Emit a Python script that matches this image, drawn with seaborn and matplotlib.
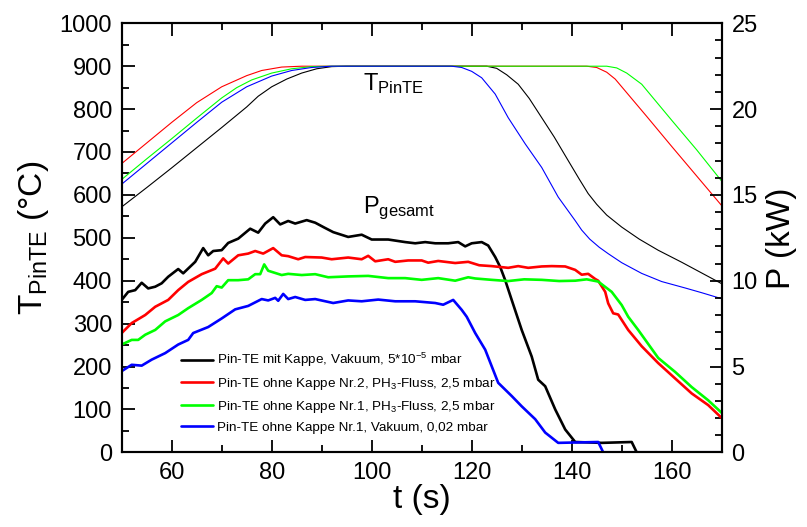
import matplotlib
matplotlib.use("Agg")
import matplotlib.pyplot as plt
import seaborn as sns
from matplotlib.ticker import MultipleLocator

# --- Temperatur T_PinTE (°C) ---
t_temp_black = [50, 55, 60, 65, 70, 75, 77.3, 80, 83, 86, 89, 92, 95, 123, 125, 127, 129.3, 131.5, 134,
                136.5, 139.3, 141.5, 143.3, 145, 147, 150, 153.5, 157.3, 162, 166, 170]
temp_black = [572, 617, 663, 710, 757, 805, 830, 852, 870, 884, 894, 899, 900, 900, 895, 880, 858, 825, 780,
              735, 680, 637, 603, 578, 553, 525, 497, 471, 443, 418, 393]

t_temp_red = [50, 55, 60, 65, 70, 75, 78, 82, 86, 143, 145, 147, 148.7, 155, 160, 165, 170]
temp_red = [673, 721, 769, 815, 852, 878, 890, 898, 900, 900, 897, 886, 870, 783, 713, 644, 575]

t_temp_green = [50, 55, 60, 65, 70, 73, 76, 80, 84, 88, 92, 147, 149, 151, 154, 160, 165, 170]
temp_green = [636, 684, 731, 779, 826, 850, 868, 884, 894, 899, 900, 900, 896, 884, 858, 774, 705, 632]

t_temp_blue = [50, 55, 60, 65, 70, 75, 80, 84, 88, 92, 116, 118, 120, 122, 124.7, 127.3, 130.7, 134, 137.3,
               140.7, 142, 143.6, 145.5, 147.3, 150, 154, 158, 162.7, 166, 170]
temp_blue = [625, 673, 721, 769, 816, 852, 877, 890, 897, 900, 900, 897, 888, 873, 835, 780, 719, 664, 595,
             540, 518, 497, 478, 463, 442, 417, 398, 383, 372, 358]

# --- Leistung P (kW) ---
t_p_black = [50, 51.3, 52.7, 54, 55.3, 56.7, 58, 59.3, 61.3, 62.3, 64.7, 66.3, 67.3, 68.3, 70, 71.3, 73.3,
             75.7, 77.3, 78.7, 80.3, 81.7, 83.3, 84.7, 87, 88.7, 90.5, 92.3, 95.3, 98, 100, 103.3, 106.7,
             108.7, 110.7, 112.7, 115.3, 117.3, 118.7, 120, 122, 123.3, 124.7, 125.7, 126.7, 128, 130, 132,
             133.3, 134.7, 136.7, 138.7, 140.7, 146, 152, 153, 170]
p_black = [8.88, 9.35, 9.45, 9.88, 9.55, 9.65, 9.85, 10.23, 10.68, 10.43, 11.1, 11.9, 11.48, 11.73, 11.78,
           12.2, 12.45, 13.03, 12.8, 13.33, 13.7, 13.28, 13.48, 13.33, 13.53, 13.38, 13.1, 12.83, 12.55,
           12.68, 12.4, 12.4, 12.25, 12.18, 12.25, 12.18, 12.18, 12.25, 12.0, 12.18, 12.25, 12.05, 11.38,
           10.8, 10.03, 8.88, 7.13, 5.58, 4.23, 3.85, 2.5, 1.33, 0.6, 0.55, 0.6, 0.0, 0.0]

t_p_red = [50, 52, 54.7, 56.7, 59.3, 61.3, 63.3, 66, 68.7, 70.3, 71.3, 73.3, 75.3, 76.7, 78.3, 80.3, 82,
           83.3, 85.3, 86.7, 90, 92, 95.3, 98, 99.3, 100.7, 103.3, 104.7, 107.3, 110, 111.3, 113.3, 116.7,
           119.3, 121.5, 124, 127.3, 129.3, 131.3, 134, 136, 138.7, 140.7, 142, 143.3, 144.7, 145.3, 146.7,
           147.3, 148.3, 149.3, 151.3, 154, 157.3, 160.7, 164, 167.3, 170]
p_red = [6.95, 7.53, 8.0, 8.48, 8.88, 9.45, 9.93, 10.38, 10.7, 11.3, 11.0, 11.48, 11.58, 11.73, 11.58, 11.9,
         11.48, 11.43, 11.25, 11.38, 11.35, 11.25, 11.35, 11.25, 11.45, 11.13, 11.25, 11.1, 11.18, 11.18,
         11.05, 11.15, 11.03, 11.1, 10.9, 10.85, 10.75, 10.85, 10.75, 10.83, 10.85, 10.83, 10.63, 10.35,
         10.4, 10.1, 10.0, 9.35, 8.68, 8.1, 8.03, 7.13, 6.18, 5.2, 4.3, 3.43, 2.75, 2.0]

t_p_green = [50, 52, 53.3, 54.7, 56.7, 58.7, 61.3, 63.3, 66, 68, 69, 70, 71.3, 73.3, 75.3, 76.7, 77.7, 78.5,
             79.3, 82, 83.3, 86, 88.7, 91.3, 95.3, 99.3, 103.3, 106.7, 110, 113.3, 116.7, 119.3, 120.7, 124,
             127.3, 130.5, 134, 137.5, 140.7, 143, 145.3, 148, 150, 151.3, 153.3, 157.3, 160.7, 164, 167.3, 170]
p_green = [6.28, 6.55, 6.55, 6.85, 7.13, 7.63, 8.0, 8.4, 8.88, 9.28, 9.68, 9.6, 10.03, 10.03, 10.08, 10.38,
           10.38, 10.95, 10.58, 10.33, 10.4, 10.33, 10.38, 10.2, 10.25, 10.28, 10.15, 10.15, 10.05, 10.15,
           10.0, 10.2, 10.13, 10.05, 9.98, 10.08, 10.05, 9.98, 10.0, 10.08, 9.95, 9.35, 8.58, 7.9, 7.13,
           5.5, 4.68, 3.8, 3.03, 2.3]

t_p_blue = [50, 52, 54, 56, 58.7, 61.3, 63.3, 64.3, 67.3, 70, 72.7, 75.3, 78, 79.3, 80.7, 81.3, 82.3, 83.3,
            84.7, 86.7, 88.7, 92.3, 95.3, 98, 101.3, 104.7, 108.7, 112.7, 114.3, 116.3, 118, 119, 120.7,
            122.7, 125.3, 128, 130, 132.7, 134.7, 137.3, 145.3, 146.3, 170]
p_blue = [4.73, 5.1, 5.05, 5.4, 5.78, 6.28, 6.55, 6.95, 7.3, 7.8, 8.33, 8.53, 8.93, 8.85, 9.0, 8.83, 9.23,
          8.93, 9.05, 8.88, 8.93, 8.7, 8.85, 8.8, 8.9, 8.8, 8.8, 8.7, 8.6, 8.88, 8.3, 7.9, 6.95, 5.98, 4.05,
          3.28, 2.68, 1.93, 1.15, 0.55, 0.6, 0.0, 0.0]

labels = [
    r"Pin-TE mit Kappe, Vakuum, 5*10$^{-5}$ mbar",
    r"Pin-TE ohne Kappe Nr.2, PH$_3$-Fluss, 2,5 mbar",
    r"Pin-TE ohne Kappe Nr.1, PH$_3$-Fluss, 2,5 mbar",
    r"Pin-TE ohne Kappe Nr.1, Vakuum, 0,02 mbar",
]
colors = ["#000000", "#ff0000", "#00ff00", "#0000ff"]

sns.set_style("ticks")
plt.rcParams["font.family"] = ["Liberation Sans", "DejaVu Sans"]
plt.rcParams["mathtext.fontset"] = "custom"
plt.rcParams["mathtext.rm"] = "Liberation Sans"
plt.rcParams["mathtext.it"] = "Liberation Sans:italic"
plt.rcParams["mathtext.default"] = "regular"
plt.rcParams["axes.linewidth"] = 1.5
for key in ("text.color", "axes.labelcolor", "xtick.color", "ytick.color", "axes.edgecolor"):
    plt.rcParams[key] = "black"

fig = plt.figure(figsize=(8.07, 5.27), dpi=100)
ax = fig.add_axes([121.7 / 807, 1 - 452.3 / 527, 600 / 807, 429 / 527])
ax2 = ax.twinx()

temps = [(t_temp_black, temp_black), (t_temp_red, temp_red), (t_temp_green, temp_green), (t_temp_blue, temp_blue)]
powers = [(t_p_black, p_black), (t_p_red, p_red), (t_p_green, p_green), (t_p_blue, p_blue)]

for (x, y), c in zip(temps, colors):
    sns.lineplot(x=x, y=y, ax=ax, color=c, lw=0.8)

handles = []
for (x, y), c, lab in zip(powers, colors, labels):
    sns.lineplot(x=x, y=y, ax=ax2, color=c, lw=1.9, label=lab)
    handles.append(ax2.lines[-1])

ax.set_xlim(50, 170)
ax.set_ylim(0, 1000)
ax2.set_ylim(0, 25)

ax.xaxis.set_major_locator(MultipleLocator(20))
ax.xaxis.set_minor_locator(MultipleLocator(10))
ax.yaxis.set_major_locator(MultipleLocator(100))
ax.yaxis.set_minor_locator(MultipleLocator(50))
ax2.yaxis.set_major_locator(MultipleLocator(5))
ax2.yaxis.set_minor_locator(MultipleLocator(1))

ax.tick_params(axis="both", which="both", direction="in", width=1.3, labelsize=17, colors="black")
ax.tick_params(axis="x", which="both", top=True)
ax.tick_params(axis="x", which="major", length=9, pad=7)
ax.tick_params(axis="x", which="minor", length=5)
ax.tick_params(axis="y", which="major", length=9, pad=7)
ax.tick_params(axis="y", which="minor", length=5)
ax2.tick_params(axis="y", which="both", direction="in", width=1.3, labelsize=17, colors="black")
ax2.tick_params(axis="y", which="major", length=9, pad=7)
ax2.tick_params(axis="y", which="minor", length=5)

for a in (ax, ax2):
    for s in a.spines.values():
        s.set_visible(True)
        s.set_linewidth(1.5)
        s.set_color("black")

ax.set_xlabel("t (s)", fontsize=24, labelpad=0)
ax.set_ylabel(r"T$_{\mathrm{PinTE}}$ (°C)", fontsize=24, labelpad=6)
ax2.set_ylabel("P (kW)", fontsize=24, rotation=90, labelpad=6)

ax.text(98.3, 888, r"T$_{\mathrm{PinTE}}$", fontsize=17, va="top", ha="left")
ax.text(98.3, 600, r"P$_{\mathrm{gesamt}}$", fontsize=17, va="top", ha="left")

ax2.legend(handles=handles, labels=labels, loc="upper left", bbox_to_anchor=(0.098, 0.236),
           frameon=False, fontsize=9.7, borderpad=0, borderaxespad=0, handlelength=2.4,
           handletextpad=0.3, labelspacing=0.5)

fig.savefig("out.png", dpi=100)
